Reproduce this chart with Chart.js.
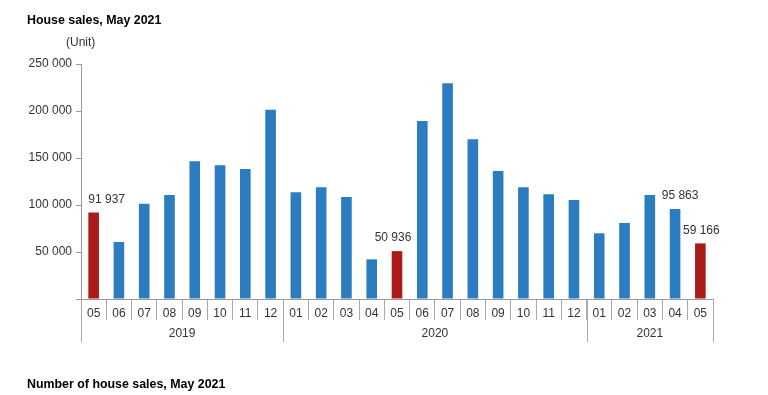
<!DOCTYPE html>
<html>
<head>
<meta charset="utf-8">
<script src="https://cdn.jsdelivr.net/npm/chart.js@4"></script>
<style>
  body { margin: 0; background: #fff; font-family: "Liberation Sans", Arial, sans-serif; }
  #wrap { position: relative; width: 768px; height: 395px; }
  canvas { position: absolute; left: 0; top: 0; }
  .txt { position: absolute; white-space: nowrap; color: #000; }
</style>
</head>
<body>
<div id="wrap">
  <canvas id="salesChart" width="768" height="395"></canvas>
  <div class="txt" style="left:27px;top:13px;font-size:12.4px;font-weight:bold;">House sales, May 2021</div>
  <div class="txt" style="left:66px;top:35px;font-size:12px;color:#333;">(Unit)</div>
  <div class="txt" style="left:27px;top:377px;font-size:12.4px;font-weight:bold;">Number of house sales, May 2021</div>
</div>
<script>
// months shown on the axis, 2019-05 .. 2021-05
const months = ["05", "06", "07", "08", "09", "10", "11", "12",
  "01", "02", "03", "04", "05", "06", "07", "08", "09", "10", "11", "12",
  "01", "02", "03", "04", "05"];
// year groups under the months
const years = ["2019", "2020", "2021"];
const yearCounts = [8, 12, 5];

// house sales (units)
const sales = [91937, 60600, 101400, 110600, 146500, 142200, 138300, 201400,
  113500, 118800, 108500, 42200, 50936, 189400, 229400, 169900, 136200, 118800, 111400, 105300,
  69900, 80900, 110600, 95863, 59166];

// bars that get a value label
const labelled = [0, 12, 23, 24];

const blue = "#2b7cc1";
const red = "#ad1a1a";

// may bars are red
const barColors = months.map((m) => (m === "05" ? red : blue));

const fmt = (v) => String(v).replace(/\B(?=(\d{3})+(?!\d))/g, " ");

// value labels and the year row below the month ticks
const extrasPlugin = {
  id: "extras",
  afterDraw(chart) {
    const ctx = chart.ctx;
    const xs = chart.scales.x;
    const meta = chart.getDatasetMeta(0);
    const dx = { 0: 13, 12: -4, 23: 5, 24: 1 };

    ctx.save();
    ctx.fillStyle = "#333";
    ctx.font = "12px 'Liberation Sans', Arial, sans-serif";
    ctx.textAlign = "center";
    ctx.textBaseline = "middle";
    labelled.forEach((i) => {
      const bar = meta.data[i];
      ctx.fillText(fmt(sales[i]), bar.x + (dx[i] || 0), bar.y - 13);
    });

    // year separators + labels
    ctx.strokeStyle = "#aaa";
    ctx.lineWidth = 1;
    let start = 0;
    const half = (xs.getPixelForValue(1) - xs.getPixelForValue(0)) / 2;
    years.forEach((yr, k) => {
      const end = start + yearCounts[k] - 1;
      const x0 = xs.getPixelForValue(start) - half;
      const x1 = xs.getPixelForValue(end) + half;
      [x0, x1].forEach((x) => {
        ctx.beginPath();
        ctx.moveTo(Math.round(x) + 0.5, xs.top);
        ctx.lineTo(Math.round(x) + 0.5, xs.top + 43);
        ctx.stroke();
      });
      ctx.fillText(yr, (x0 + x1) / 2, xs.top + 35);
      start = end + 1;
    });
    ctx.restore();
  },
};

new Chart(document.getElementById("salesChart"), {
  type: "bar",
  data: {
    labels: months,
    datasets: [{
      data: sales,
      backgroundColor: barColors,
      barPercentage: 0.42,
      categoryPercentage: 1,
    }],
  },
  options: {
    responsive: false,
    animation: false,
    devicePixelRatio: 1,
    layout: { padding: { top: 64, right: 55, bottom: 50, left: 0 } },
    plugins: { legend: { display: false }, tooltip: { enabled: false } },
    scales: {
      x: {
        grid: { drawOnChartArea: false, offset: true, tickLength: 21, color: "#aaa" },
        border: { color: "#999" },
        ticks: {
          padding: -14,
          color: "#333",
          font: { family: "'Liberation Sans', Arial, sans-serif", size: 12 },
          maxRotation: 0,
          autoSkip: false,
        },
        afterFit: (s) => { s.height = 46; },
      },
      y: {
        min: 0,
        max: 250000,
        grid: { drawOnChartArea: false, tickLength: 5, color: "#999" },
        border: { color: "#999" },
        ticks: {
          stepSize: 50000,
          padding: 4,
          color: "#333",
          font: { family: "'Liberation Sans', Arial, sans-serif", size: 12 },
          callback: (v) => (v === 0 ? "" : fmt(v)),
        },
        afterFit: (s) => { s.width = 81; },
      },
    },
  },
  plugins: [extrasPlugin],
});
</script>
</body>
</html>
